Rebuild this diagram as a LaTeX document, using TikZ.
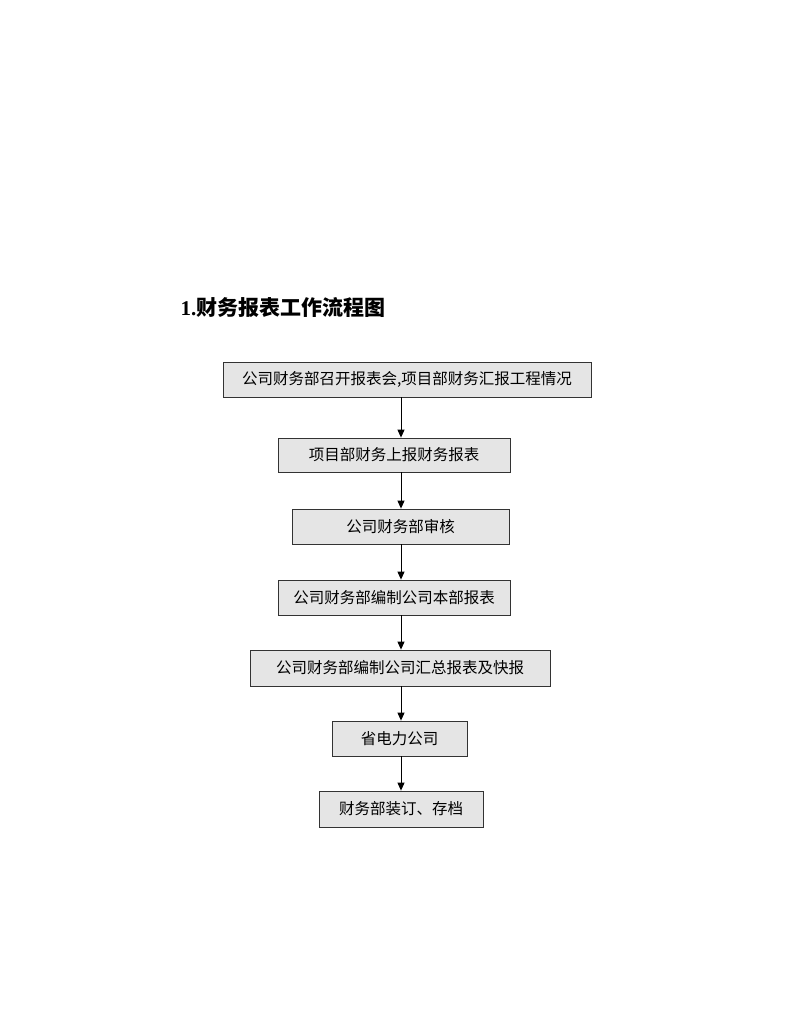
\documentclass[tikz,border=0pt]{standalone}
\usepackage{fontspec}
\setmainfont{Liberation Serif}
\newfontfamily\cjk{Noto Sans CJK SC}
\newfontfamily\cjkb{Noto Sans CJK SC Bold}
\usetikzlibrary{arrows.meta}
\begin{document}
\begin{tikzpicture}[x=1pt,y=-1pt,
  box/.style={draw=black!80,line width=0.8pt,fill=black!10,inner sep=0pt,font=\cjk\fontsize{15.5}{15.5}\selectfont},
  arr/.style={-{Triangle[length=8pt,width=7pt]},line width=0.9pt}]
\useasboundingbox (0,0) rectangle (794,1025);
\node[anchor=west,font=\fontsize{21}{21}\selectfont\bfseries] (title) at (177,308) {1.{\cjkb 财务报表工作流程图}};
\newcommand\bx[6]{\node[box,minimum width=#4-#2,minimum height=#5-#3] (#1) at ({(#2+#4)/2},{(#3+#5)/2}) {#6};}
\bx{n1}{223}{362}{591}{397}{公司财务部召开报表会,项目部财务汇报工程情况}
\bx{n2}{278}{438}{510}{472}{项目部财务上报财务报表}
\bx{n3}{292}{509}{509}{544}{公司财务部审核}
\bx{n4}{278}{580}{510}{615}{公司财务部编制公司本部报表}
\bx{n5}{250}{650}{550}{686}{公司财务部编制公司汇总报表及快报}
\bx{n6}{332}{721}{467}{756}{省电力公司}
\bx{n7}{319}{791}{483}{827}{财务部装订、存档}
\foreach \a/\b in {n1/n2,n2/n3,n3/n4,n4/n5,n5/n6,n6/n7}
  \draw[arr] (\a.south -| 401,0) -- (\b.north -| 401,0);
\end{tikzpicture}
\end{document}
